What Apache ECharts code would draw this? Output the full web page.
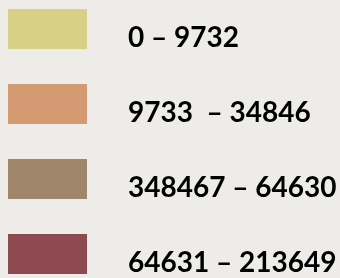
<!DOCTYPE html>
<html>
<head>
<meta charset="utf-8">
<script src="https://cdn.jsdelivr.net/npm/echarts@6/dist/echarts.min.js"></script>
<style>
html, body { margin: 0; padding: 0; background: #eeece9; }
#chart { width: 340px; height: 278px; }
</style>
</head>
<body>
<div id="chart"></div>
<script>
// class ranges, kept in the order shown in the legend
var labels = ['0 \u2013 9732', '9733  \u2013 34846', '348467 \u2013 64630', '64631 \u2013 213649'];
var colors = ['#d8d185', '#d49a72', '#a0866a', '#8e4a50'];

var option = {
    backgroundColor: '#eeece9',
    visualMap: {
        type: 'piecewise',
        orient: 'vertical',
        inverse: true,
        left: 8,
        top: 9,
        padding: 0,
        itemWidth: 79,
        itemHeight: 40,
        itemGap: 32,
        textGap: 41,
        itemSymbol: 'rect',
        selectedMode: false,
        categories: labels,
        inRange: { color: colors },
        formatter: function (v) {
            return '{a|' + v + '}';
        },
        textStyle: {
            color: '#000',
            fontFamily: 'Lato',
            fontWeight: 'bold',
            fontSize: 28,
            rich: {
                a: {
                    color: '#000',
                    fontFamily: 'Lato',
                    fontWeight: 'bold',
                    fontSize: 28,
                    padding: [18, 0, 0, 0]
                }
            }
        }
    },
    series: []
};

window.onload = function () {
    var chart = echarts.init(document.getElementById('chart'));
    chart.setOption(option);
};
</script>
</body>
</html>
